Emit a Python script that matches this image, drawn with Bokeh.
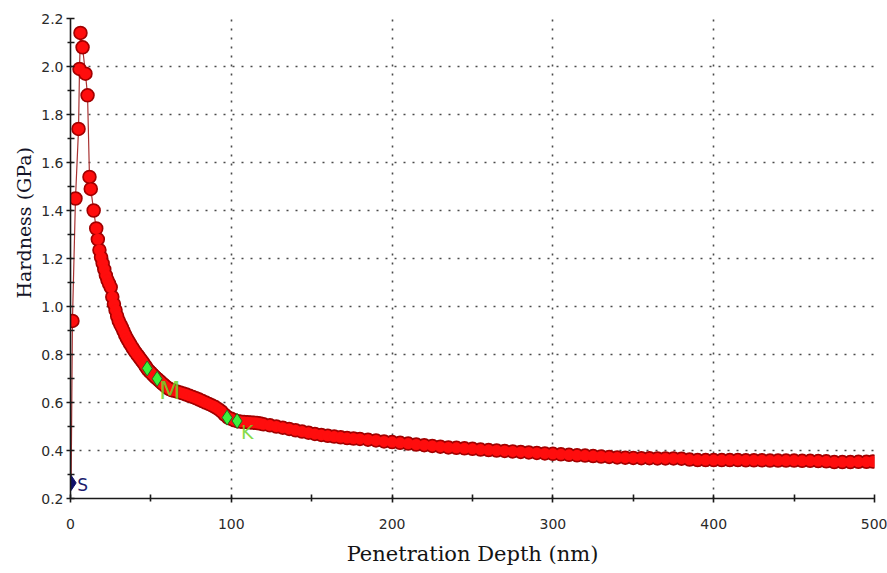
from bokeh.plotting import figure
from bokeh.models import FixedTicker, PrintfTickFormatter, ColumnDataSource, Title
from bokeh.embed import file_html
from bokeh.resources import INLINE
from bokeh.core.properties import value

# ---- data ----
start_depth = [0.4]
start_hardness = [0.265]

peak_depth = [1.2, 3.1, 5.0, 5.6, 6.2, 7.5, 9.3, 10.6, 11.8, 12.6, 14.4]
peak_hardness = [0.94, 1.45, 1.74, 1.99, 2.14, 2.08, 1.97, 1.88, 1.54, 1.49, 1.40]

curve_depth = [16, 17, 18, 19, 20, 21, 22, 23, 24, 25, 26, 27, 28, 29, 30,
               31, 32, 33, 34, 35, 36, 37, 38, 39, 40, 41, 42, 43, 44, 45, 46,
               47, 48, 49, 50, 51, 52, 53, 54, 55, 56, 57, 58, 59, 60, 61, 62,
               63, 64, 66, 68, 70, 72, 74, 76, 78, 80, 82, 84, 86, 88, 90, 92,
               94, 96, 98, 100, 102, 104, 106, 108, 110, 112, 114, 116, 118,
               120, 124, 128, 132, 136, 140, 144, 148, 152, 156, 160, 164, 168,
               172, 176, 180, 185, 190, 195, 200, 205, 210, 215, 220, 225, 230,
               235, 240, 245, 250, 255, 260, 265, 270, 275, 280, 285, 290, 295,
               300, 305, 310, 315, 320, 325, 330, 335, 340, 345, 350, 355, 360,
               365, 370, 375, 380, 385, 390, 395, 400, 405, 410, 415, 420, 425,
               430, 435, 440, 445, 450, 455, 460, 465, 470, 475, 480, 485, 490,
               495, 499]
curve_hardness = [1.325, 1.28, 1.235, 1.205, 1.18, 1.155, 1.13, 1.11, 1.095,
                  1.08, 1.04, 1.01, 0.985, 0.96, 0.94, 0.925, 0.912, 0.897,
                  0.882, 0.868, 0.857, 0.845, 0.834, 0.823, 0.813, 0.804, 0.795,
                  0.786, 0.777, 0.768, 0.758, 0.748, 0.738, 0.731, 0.724, 0.717,
                  0.71, 0.704, 0.698, 0.692, 0.686, 0.68, 0.674, 0.668, 0.663,
                  0.658, 0.655, 0.652, 0.65, 0.646, 0.642, 0.638, 0.633, 0.628,
                  0.623, 0.618, 0.612, 0.606, 0.6, 0.594, 0.588, 0.581, 0.572,
                  0.562, 0.548, 0.537, 0.532, 0.526, 0.522, 0.52, 0.519, 0.518,
                  0.517, 0.516, 0.515, 0.512, 0.509, 0.505, 0.5, 0.495, 0.49,
                  0.484, 0.479, 0.474, 0.469, 0.465, 0.461, 0.458, 0.455, 0.452,
                  0.45, 0.448, 0.445, 0.442, 0.438, 0.435, 0.432, 0.429, 0.425,
                  0.422, 0.419, 0.416, 0.413, 0.411, 0.409, 0.407, 0.404, 0.402,
                  0.4, 0.398, 0.396, 0.394, 0.392, 0.39, 0.388, 0.386, 0.384,
                  0.382, 0.38, 0.379, 0.377, 0.375, 0.373, 0.371, 0.37, 0.369,
                  0.368, 0.368, 0.367, 0.367, 0.367, 0.366, 0.362, 0.36, 0.36,
                  0.36, 0.36, 0.36, 0.36, 0.359, 0.359, 0.359, 0.358, 0.358,
                  0.358, 0.358, 0.357, 0.357, 0.356, 0.355, 0.352, 0.352, 0.352,
                  0.353, 0.353, 0.354]

mark_depth = [47.7, 53.9, 97.4, 103.6]
mark_hardness = [0.742, 0.699, 0.537, 0.523]

label_text = ["M", "K"]
label_depth = [55.0, 106.0]
label_hardness = [0.652, 0.478]
label_size = ["25px", "19px"]

x_ticks = [0, 100, 200, 300, 400, 500]
x_minor = [50, 150, 250, 350, 450]
y_ticks = [0.2, 0.4, 0.6, 0.8, 1.0, 1.2, 1.4, 1.6, 1.8, 2.0, 2.2]
y_minor = [0.3, 0.5, 0.7, 0.9, 1.1, 1.3, 1.5, 1.7, 1.9, 2.1]

# ---- figure ----
p = figure(width=887, height=573, x_range=(0, 500), y_range=(0.2, 2.2),
           output_backend="svg", toolbar_location=None,
           min_border_left=70, min_border_right=13, min_border_top=18,
           min_border_bottom=75)
p.outline_line_color = None
p.background_fill_color = "white"

p.xaxis.ticker = FixedTicker(ticks=x_ticks, minor_ticks=x_minor)
p.yaxis.ticker = FixedTicker(ticks=y_ticks, minor_ticks=y_minor)
p.xgrid.ticker = FixedTicker(ticks=x_ticks[1:])
p.ygrid.ticker = FixedTicker(ticks=y_ticks[1:])
p.yaxis.formatter = PrintfTickFormatter(format="%.1f")

for g in (p.xgrid, p.ygrid):
    g.grid_line_color = "#4a4a4a"
    g.grid_line_dash = "2 7"
    g.grid_line_width = 1.6

for ax in (p.xaxis, p.yaxis):
    ax.axis_line_color = "#1a1a1a"
    ax.axis_line_width = 1.6
    ax.major_tick_line_color = "#1a1a1a"
    ax.minor_tick_line_color = "#1a1a1a"
    ax.major_tick_line_width = 1.6
    ax.minor_tick_line_width = 1.6
    ax.major_tick_in = 4
    ax.major_tick_out = 4
    ax.minor_tick_in = 4
    ax.minor_tick_out = 3
    ax.major_label_text_font = "DejaVu Sans"
    ax.major_label_text_font_size = "14px"
    ax.major_label_text_color = "#2a2a2a"
    ax.axis_label_text_font = "DejaVu Serif"
    ax.axis_label_text_font_style = "normal"
    ax.axis_label_text_color = "#141414"

p.xaxis.axis_label = "Penetration Depth (nm)"
p.xaxis.axis_label_text_font_size = "21px"
p.xaxis.major_label_standoff = 16
p.xaxis.axis_label_standoff = 10
p.yaxis.major_label_standoff = 3

p.add_layout(Title(text="Hardness (GPa)", align="left", offset=200,
                   standoff=8, text_font="DejaVu Serif",
                   text_font_size="19px", text_font_style="normal",
                   text_color="#141428"), "left")

all_depth = start_depth + peak_depth + curve_depth
all_hardness = start_hardness + peak_hardness + curve_hardness

p.line(all_depth, all_hardness, line_color="#a83232", line_width=1.2)

red_depth = peak_depth + curve_depth
red_hardness = peak_hardness + curve_hardness
p.scatter(red_depth, red_hardness, marker="circle", size=13,
          fill_color="#c00000", line_color="#a00000", line_width=1.5)
p.scatter(red_depth, red_hardness, marker="circle", size=11,
          fill_color="#ff0d0d", line_color=None)

lab = ColumnDataSource(dict(x=label_depth, y=label_hardness, t=label_text,
                            s=label_size))
p.text(x="x", y="y", text="t", source=lab, text_font=value("DejaVu Sans"),
       text_font_size="s", text_color="#6fd62a", text_alpha=0.85,
       text_baseline="alphabetic", text_align="left")

p.scatter(mark_depth, mark_hardness, marker="diamond", size=15,
          fill_color="#3cf03c", line_color="#1f6f1f", line_width=1)

p.scatter(start_depth, start_hardness, marker="diamond", size=15,
          fill_color="#10106a", line_color="#10106a", line_width=1)
p.text(x=start_depth, y=start_hardness, text=["S"], x_offset=6, y_offset=2,
       text_font=value("DejaVu Sans"), text_font_size="17px",
       text_color="#1c1c6e", text_baseline="middle", text_align="left")

open("out.html", "w").write(file_html(p, INLINE))
